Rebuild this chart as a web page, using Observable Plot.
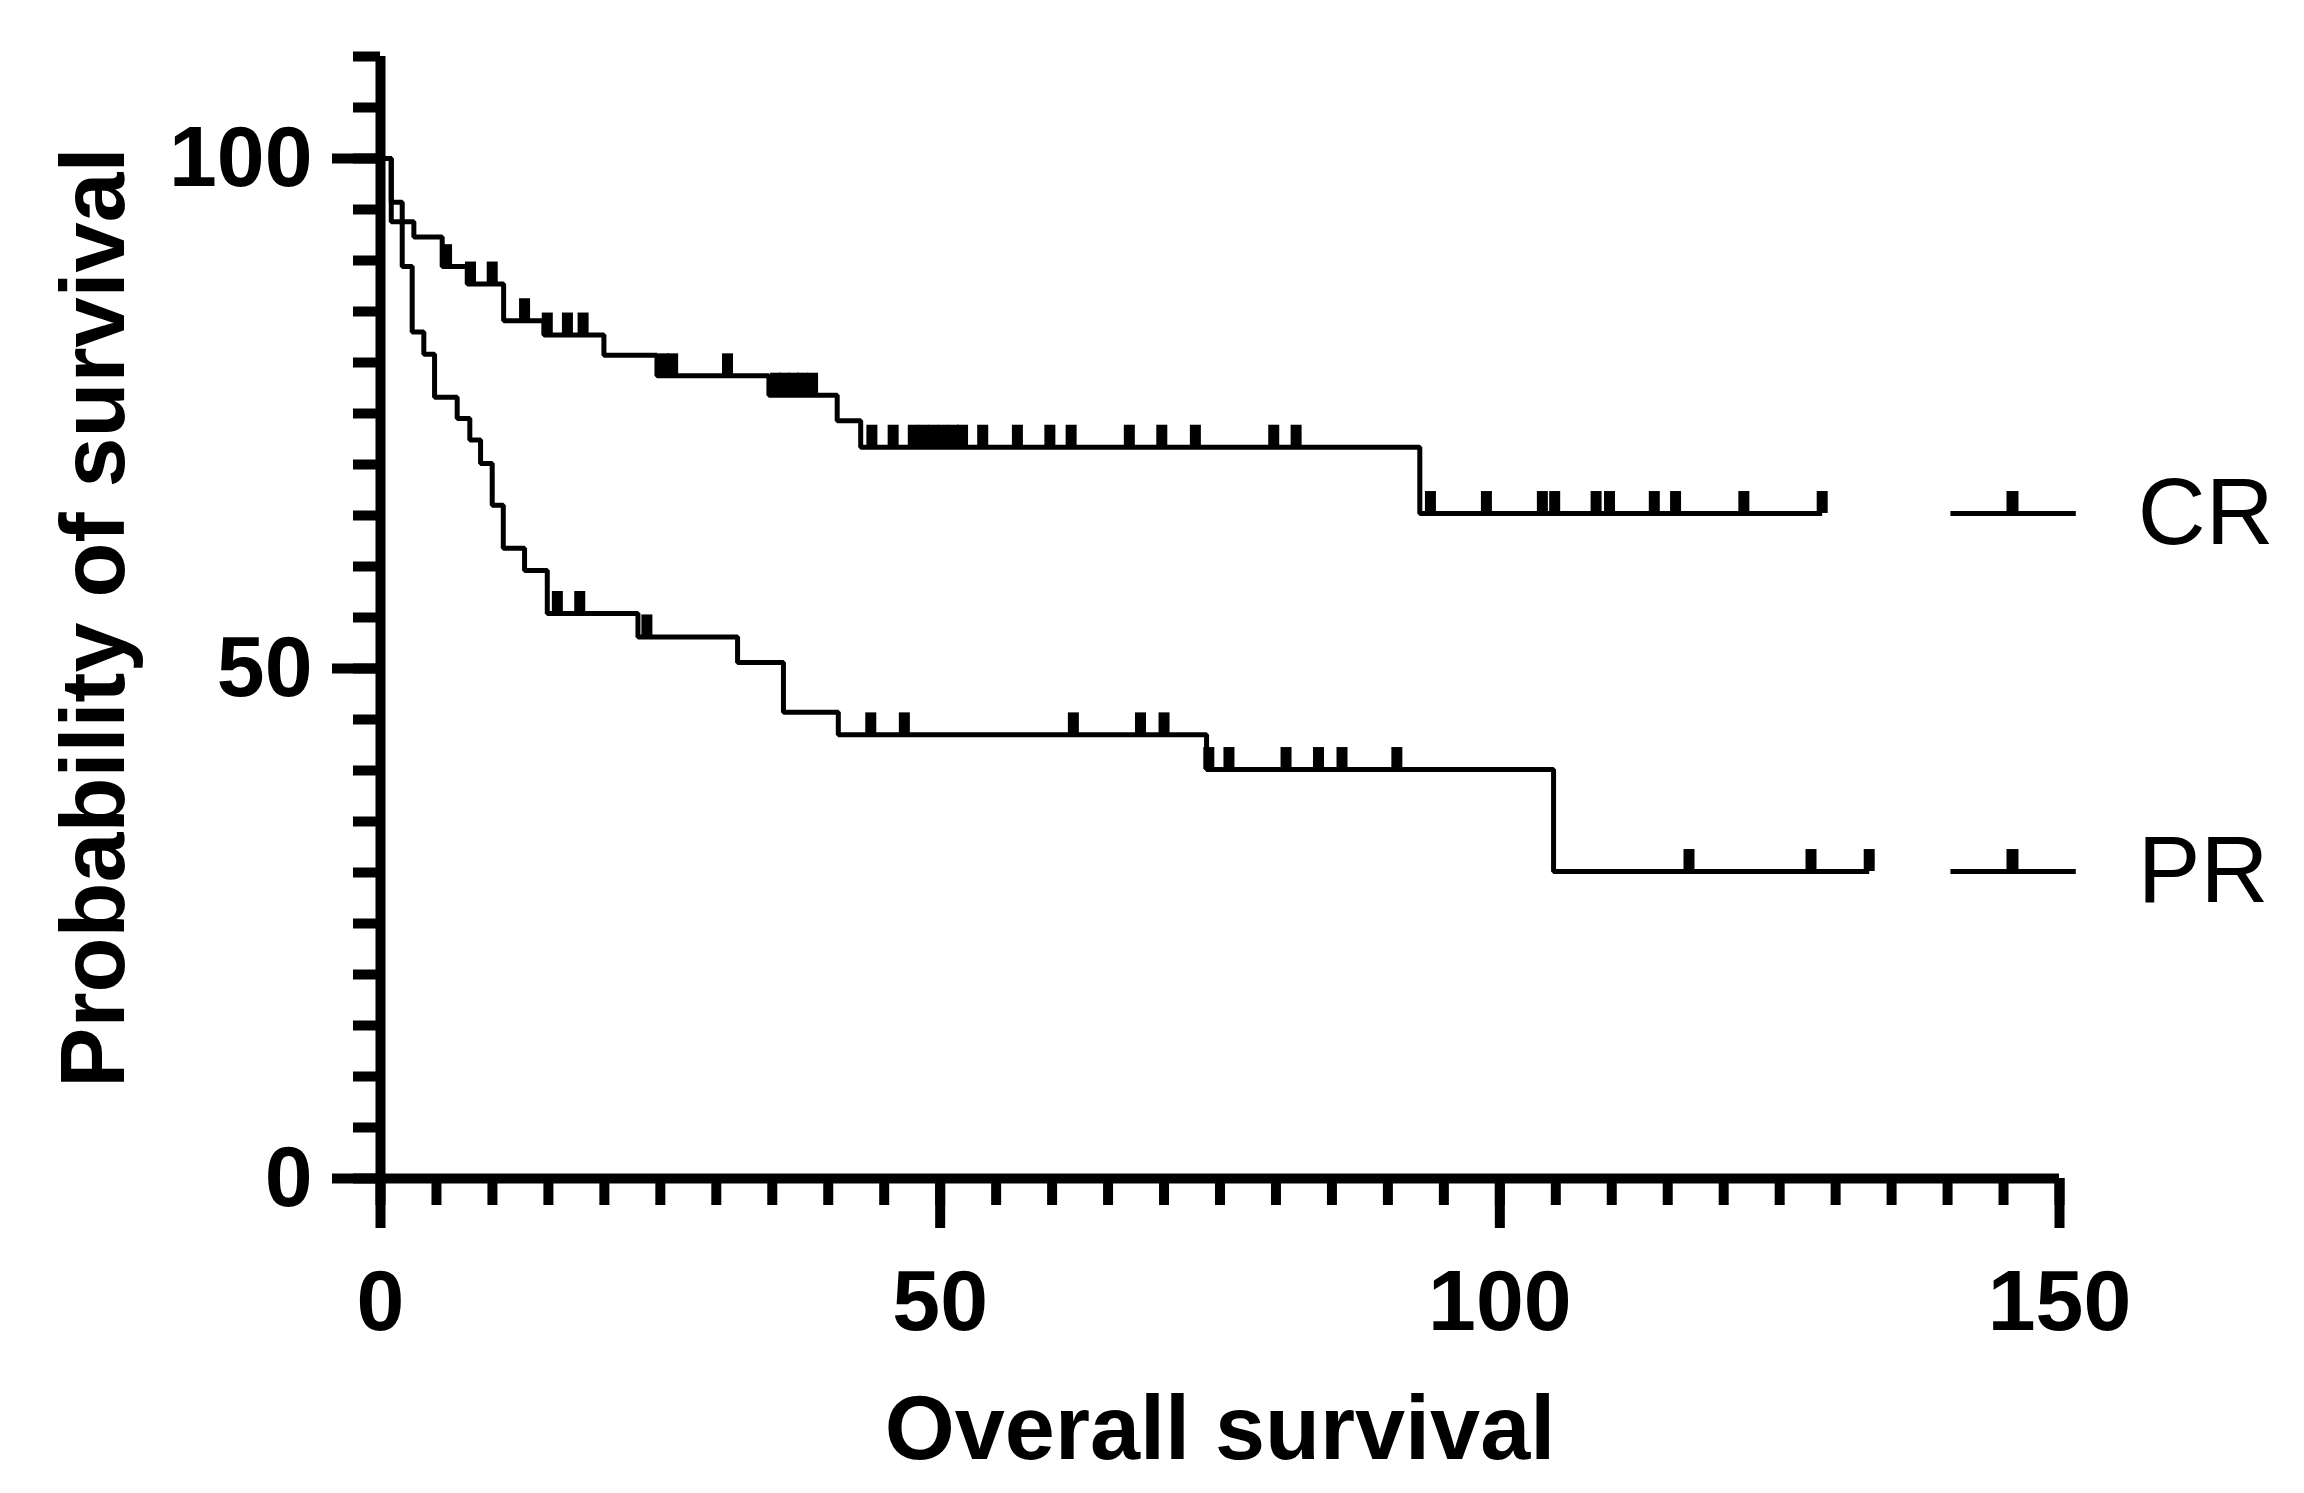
<!DOCTYPE html>
<html>
<head>
<meta charset="utf-8">
<script src="https://cdn.jsdelivr.net/npm/d3@7"></script>
<script src="https://cdn.jsdelivr.net/npm/@observablehq/plot@0.6"></script>
<style>
  html, body { margin: 0; padding: 0; background: #fff; }
  #chart { width: 2304px; height: 1493px; }
</style>
</head>
<body>
<div id="chart"></div>
<script>
// ---- Data ----
const groups = ["CR", "PR"];

// CR: step times (months) and survival (%) after each step
const crTimes = [0, 0.96, 2.98, 5.51, 7.75, 11.0, 14.6, 19.96, 24.7, 34.7, 40.8, 42.9, 92.85, 128.8];
const crSurv  = [100, 93.8, 92.3, 89.4, 87.7, 84.1, 82.7, 80.7, 78.7, 76.8, 74.3, 71.7, 65.2, 65.2];
const crCensor = [5.9, 8.04, 9.98, 12.87, 14.9, 16.7, 18.1, 25.3, 26.1, 31.0,
  35.3, 36.1, 36.9, 37.7, 38.6, 43.9, 45.8, 47.6, 48.5, 49.4, 50.3, 51.2, 52.0,
  53.8, 56.9, 59.8, 61.7, 66.9, 69.8, 72.8, 79.8, 81.8,
  93.8, 98.8, 103.8, 104.9, 108.6, 109.8, 113.8, 115.7, 121.8, 128.8];

// PR
const prTimes = [0, 0.96, 1.94, 2.83, 3.87, 4.83, 6.85, 7.98, 8.94, 9.98, 10.97, 12.87, 14.9, 23.0, 31.9, 36.0, 40.9, 73.8, 104.8, 133.0];
const prSurv  = [100, 95.7, 89.4, 83.0, 80.8, 76.6, 74.5, 72.4, 70.1, 66.0, 61.8, 59.6, 55.4, 53.1, 50.6, 45.7, 43.5, 40.1, 30.1, 30.1];
const prCensor = [15.8, 17.8, 23.8, 43.8, 46.8, 61.9, 67.9, 70.0, 74.0, 75.8, 80.9, 83.8, 85.9, 90.8, 116.9, 127.8, 133.0];

// Axis ticks and labels
const xMinorTicks = d3.range(0, 151, 5);
const xMajorTicks = [0, 50, 100, 150];
const yMinorTicks = d3.range(0, 111, 5);
const yMajorTicks = [0, 50, 100];
const xTitle = "Overall survival";
const yTitle = "Probability of survival";

// ---- Build tables ----
const series = {
  CR: {times: crTimes, surv: crSurv, censor: crCensor},
  PR: {times: prTimes, surv: prSurv, censor: prCensor}
};
function survAt(times, surv, t) {
  let v = surv[0];
  for (let i = 0; i < times.length; i++) if (times[i] <= t) v = surv[i];
  return v;
}
const steps = groups.flatMap(g => series[g].times.map((t, i) => ({group: g, t, v: series[g].surv[i]})));
const censors = groups.flatMap(g => series[g].censor.map(t => ({group: g, t, v: survAt(series[g].times, series[g].surv, t)})));
const legend = groups.map(g => ({group: g, v: series[g].surv[series[g].surv.length - 1]}));

// ---- Layout/style constants ----
const TICK_UP = 2.15;      // censor tick height (in y units)
const LEG_X1 = 140.3, LEG_X2 = 151.5, LEG_TICK = 145.8, LEG_TEXT = 157.0;
const FONT = "'Liberation Sans', Arial, Helvetica, sans-serif";

const chart = Plot.plot({
  width: 2304,
  height: 1493,
  marginLeft: 380,
  marginRight: 245,
  marginTop: 56,
  marginBottom: 315,
  x: {domain: [0, 150]},
  y: {domain: [0, 110]},
  style: {fontFamily: FONT, background: "white", color: "black", overflow: "visible"},
  marks: [
    // minor & major ticks
    Plot.axisY(yMinorTicks, {tickSize: 27, tickFormat: () => "", strokeWidth: 10, label: null}),
    Plot.axisY(yMajorTicks, {tickSize: 48, tickPadding: 20, fontSize: 86, fontWeight: "bold", strokeWidth: 10, label: null}),
    Plot.axisX(xMinorTicks, {tickSize: 27, tickFormat: () => "", strokeWidth: 10, label: null}),
    Plot.axisX(xMajorTicks, {tickSize: 50, tickPadding: 40, fontSize: 86, fontWeight: "bold", strokeWidth: 10, label: null}),
    // axis lines
    Plot.ruleX([0], {y1: 0, y2: 110, stroke: "black", strokeWidth: 10}),
    Plot.ruleY([0], {x1: 0, x2: 150, stroke: "black", strokeWidth: 10}),
    // survival curves
    Plot.line(steps, {x: "t", y: "v", z: "group", curve: "step-after", stroke: "black", strokeWidth: 5, strokeLinecap: "butt", strokeLinejoin: "miter"}),
    // censor ticks
    Plot.ruleX(censors, {x: "t", y1: "v", y2: d => d.v + TICK_UP, stroke: "black", strokeWidth: 11}),
    // legend
    Plot.ruleY(legend, {y: "v", x1: LEG_X1, x2: LEG_X2, stroke: "black", strokeWidth: 5}),
    Plot.ruleX(legend, {x: LEG_TICK, y1: "v", y2: d => d.v + TICK_UP, stroke: "black", strokeWidth: 12}),
    Plot.text(legend, {x: LEG_TEXT, y: "v", text: "group", textAnchor: "start", lineAnchor: "middle", fontSize: 94, fill: "black"}),
    // axis titles
    Plot.text([yTitle], {frameAnchor: "left", rotate: -90, dx: -257, lineAnchor: "bottom", textAnchor: "middle", fontSize: 90, fontWeight: "bold", fill: "black"}),
    Plot.text([xTitle], {frameAnchor: "bottom", dy: 280, lineAnchor: "bottom", textAnchor: "middle", fontSize: 90, fontWeight: "bold", fill: "black"})
  ]
});
document.getElementById("chart").appendChild(chart);
</script>
</body>
</html>
